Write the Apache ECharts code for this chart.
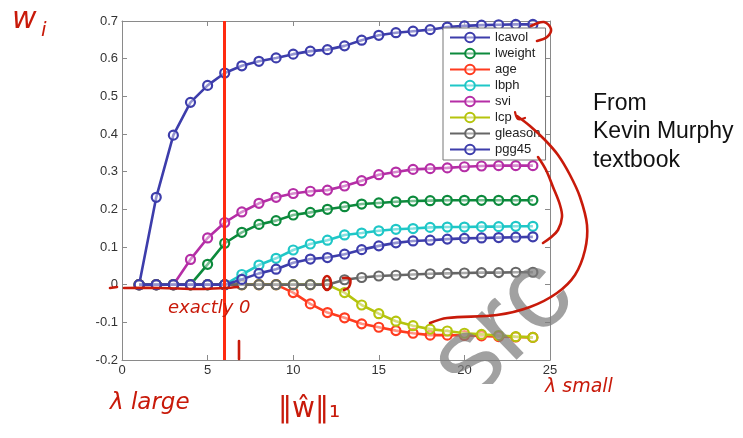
<!DOCTYPE html>
<html>
<head>
<meta charset="utf-8">
<script src="https://cdn.jsdelivr.net/npm/echarts@6/dist/echarts.min.js"></script>
<style>
html,body{margin:0;padding:0;background:#fff;}
#chart{width:743px;height:438px;}
</style>
</head>
<body>
<div id="chart"></div>
<script>
// ---- data ----
const steps = [1,2,3,4,5,6,7,8,9,10,11,12,13,14,15,16,17,18,19,20,21,22,23,24];
const seriesNames = ['lcavol','lweight','age','lbph','svi','lcp','gleason','pgg45'];
const lcavol  = [0,0.232,0.397,0.484,0.529,0.562,0.581,0.593,0.602,0.612,0.620,0.624,0.634,0.649,0.662,0.669,0.673,0.677,0.684,0.687,0.689,0.690,0.691,0.691];
const lweight = [0,0,0,0,0.054,0.110,0.139,0.160,0.170,0.185,0.192,0.200,0.207,0.214,0.217,0.220,0.222,0.223,0.224,0.224,0.224,0.224,0.224,0.224];
const age     = [0,0,0,0,0,0,0,0,0,-0.021,-0.051,-0.074,-0.088,-0.104,-0.113,-0.122,-0.129,-0.134,-0.134,-0.135,-0.136,-0.138,-0.139,-0.140];
const lbph    = [0,0,0,0,0,0,0.027,0.052,0.070,0.092,0.108,0.118,0.132,0.137,0.143,0.147,0.149,0.152,0.153,0.153,0.154,0.154,0.155,0.155];
const svi     = [0,0,0,0.067,0.124,0.165,0.193,0.216,0.232,0.242,0.248,0.251,0.262,0.276,0.292,0.299,0.306,0.308,0.310,0.313,0.315,0.316,0.316,0.316];
const lcp     = [0,0,0,0,0,0,0,0,0,0,0,0,-0.021,-0.054,-0.077,-0.097,-0.109,-0.118,-0.123,-0.129,-0.132,-0.135,-0.138,-0.140];
const gleason = [0,0,0,0,0,0,0,0,0,0,0,0,0.013,0.019,0.023,0.025,0.027,0.029,0.030,0.031,0.032,0.032,0.033,0.033];
const pgg45   = [0,0,0,0,0,0,0.014,0.030,0.041,0.058,0.068,0.072,0.081,0.093,0.103,0.111,0.116,0.118,0.121,0.123,0.124,0.125,0.126,0.127];
const markedStep = 6;

// ---- styling ----
const colors = {
  lcavol:'#3d3dab', lweight:'#0c8a3c', age:'#ff3b1f', lbph:'#1fc7c7',
  svi:'#b52ea6', lcp:'#b5c40d', gleason:'#666666', pgg45:'#3d3dab'
};
const valuesByName = {lcavol, lweight, age, lbph, svi, lcp, gleason, pgg45};
const ink = '#c81a0a';
const frame = '#8a8a8a';
const font = "'Liberation Sans', Arial, Helvetica, sans-serif";

const series = seriesNames.map((name, k) => {
  const c = colors[name];
  const s = {
    name: name,
    type: 'line',
    data: steps.map((x, i) => [x, valuesByName[name][i]]),
    symbol: 'circle',
    symbolSize: 9,
    showAllSymbol: true,
    lineStyle: {color: c, width: 2.6},
    itemStyle: {color: 'rgba(255,255,255,0.45)', borderColor: c, borderWidth: 2.2},
    emphasis: {disabled: true},
    z: 2 + k * 0.01
  };
  if (name === 'lcavol') {
    s.markLine = {
      silent: true, symbol: 'none', animation: false,
      label: {show: false},
      lineStyle: {color: '#ff2a10', width: 3, type: 'solid'},
      data: [{xAxis: markedStep}]
    };
  }
  return s;
});

function hand(points, w) {
  return {type: 'polyline', z: 100, silent: true,
    shape: {points: points, smooth: 0.35},
    style: {stroke: ink, lineWidth: w || 2.6, fill: null, lineCap: 'round', lineJoin: 'round'}};
}
function note(x, y, text, size, extra) {
  return Object.assign({type: 'text', z: 100, silent: true, x: x, y: y,
    style: {text: text, fill: ink, font: 'italic ' + size + "px 'DejaVu Sans', sans-serif"}}, extra || {});
}

const graphics = [
  // watermark
  {type: 'text', z: 60, silent: true, x: 503, y: 330, rotation: 44 * Math.PI / 180,
    style: {text: 'src', fill: 'rgba(125,125,125,0.72)', align: 'center', verticalAlign: 'middle',
      font: "112px 'Liberation Sans', Arial, sans-serif"}},
  {type: 'rect', z: 61, silent: true, shape: {x: 380, y: 384, width: 160, height: 54}, style: {fill: '#fff'}},
  // side text
  {type: 'text', z: 100, silent: true, x: 593, y: 89,
    style: {text: 'From\nKevin Murphy\ntextbook', fill: '#111', lineHeight: 28.5,
      font: "23px 'Liberation Sans', Arial, sans-serif"}},
  // handwritten notes
  note(12, 5, 'w', 30),
  note(41, 21, 'i', 20),
  note(168, 299, 'exactly 0', 18),
  note(110, 392, 'λ large', 23),
  {type: 'text', z: 100, silent: true, x: 278, y: 396,
    style: {text: '‖ŵ‖₁', fill: ink, font: "28px 'DejaVu Sans', sans-serif"}},
  note(545, 378, 'λ small', 19),
  // strokes
  hand([[110,288],[117,287]]),
  hand([[124,288],[160,288],[200,289],[225,288],[238,287]]),
  hand([[239,341],[239,359]]),
  hand([[531,26],[544,22],[551,29],[547,37],[537,41]]),
  hand([[538,157],[546,170],[553,187],[560,205],[562,217],[558,230],[550,238],[543,243]]),
  hand([[517,116],[530,126],[545,140],[558,155],[570,175],[580,197],[587,225],[585,250],[575,275],[557,293],[530,307],[497,315],[447,318],[430,323]]),
  hand([[515,112],[518,119],[525,118]], 2.2),
  {type: 'ellipse', z: 100, silent: true, shape: {cx: 327, cy: 283, rx: 4, ry: 7},
    style: {stroke: ink, lineWidth: 2.6, fill: null}},
  hand([[343,278],[350,279],[349,287],[344,290]])
];

const baseAxis = {
  type: 'value',
  axisLine: {show: true, onZero: false, lineStyle: {color: frame, width: 1}},
  axisTick: {show: true, inside: true, length: 5, lineStyle: {color: frame}},
  splitLine: {show: false},
  axisLabel: {show: true, color: '#333', fontSize: 13, fontFamily: font}
};

const option = {
  animation: false,
  backgroundColor: '#fff',
  grid: {left: 122, right: 193, top: 21, bottom: 78},
  xAxis: [
    Object.assign({}, baseAxis, {min: 0, max: 25, interval: 5, position: 'bottom',
      axisLabel: Object.assign({}, baseAxis.axisLabel, {margin: 4})}),
    Object.assign({}, baseAxis, {min: 0, max: 25, interval: 5, position: 'top',
      axisLabel: {show: false}})
  ],
  yAxis: [
    Object.assign({}, baseAxis, {min: -0.2, max: 0.7, interval: 0.1, position: 'left',
      axisLabel: Object.assign({}, baseAxis.axisLabel, {margin: 4,
        formatter: v => String(Math.round(v * 10) / 10)})}),
    Object.assign({}, baseAxis, {min: -0.2, max: 0.7, interval: 0.1, position: 'right',
      axisLabel: {show: false}})
  ],
  legend: {
    orient: 'vertical', left: 443, top: 28,
    data: seriesNames,
    itemWidth: 40, itemHeight: 12, itemGap: 3,
    padding: [3, 5, 4, 6],
    backgroundColor: '#fff', borderColor: '#777', borderWidth: 1,
    textStyle: {fontSize: 13, color: '#222', fontFamily: font},
    selectedMode: false, z: 20
  },
  series: series,
  graphic: graphics
};

const chart = echarts.init(document.getElementById('chart'), null, {renderer: 'canvas'});
chart.setOption(option);
</script>
</body>
</html>
